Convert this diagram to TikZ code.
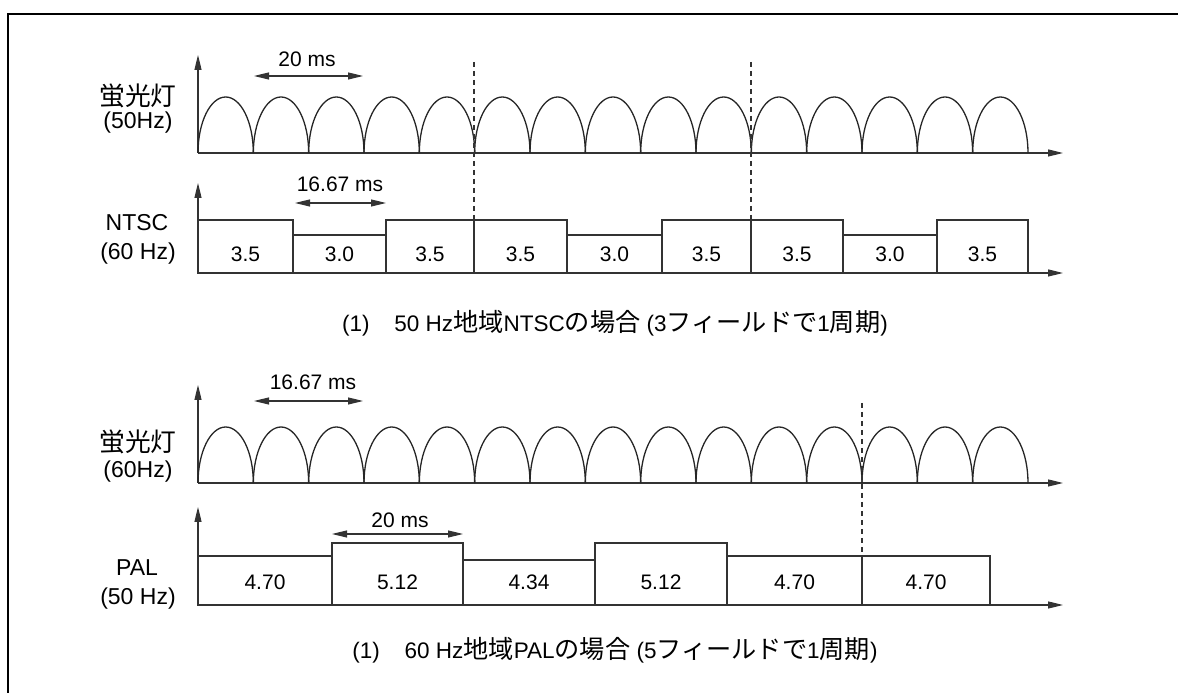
\documentclass[tikz,border=0pt]{standalone}
\usepackage{fontspec}
\setmainfont{Liberation Sans}
\newfontfamily\jpfont[Scale=1.12]{Noto Sans CJK JP}
\newcommand{\jtext}[1]{{\jpfont #1}}
\usetikzlibrary{arrows.meta, positioning}

\begin{document}
\begin{tikzpicture}[x=1pt, y=1pt,
  every node/.style={font=\fontsize{21}{25}\selectfont, inner sep=0pt},
  lbl/.style={align=center, font=\fontsize{23}{27}\selectfont},
  capt/.style={font=\fontsize{22.5}{27}\selectfont},
  axisarr/.style={-{Triangle[length=15pt, width=7pt]}, line width=1.2pt, draw=black!80},
  dimarr/.style={{Triangle[length=15pt, width=7pt]}-{Triangle[length=15pt, width=7pt]},
                 line width=1.1pt, draw=black!80},
  wave/.style={line width=1.3pt, draw=black!85},
  bar/.style={line width=1.2pt, draw=black!80},
  sync/.style={dash pattern=on 5pt off 4pt, line width=1.1pt, draw=black!80},
  frame/.style={line width=2.5pt},
]
  \useasboundingbox (0,0) rectangle (1178,693);
  \draw[frame] (8,0) |- (1178,679);

  % (1) 50 Hz lamp / NTSC
  \coordinate (oA) at (198,540);
  \coordinate (yA) at (198,638);
  \coordinate (xA) at (1063,540);
  \draw[axisarr] (oA) -- (yA);
  \draw[axisarr] (oA) -- (xA);
  \foreach \i in {0,...,14}
    \draw[wave] ({198+\i*55.333},540) arc[start angle=180, end angle=0,
                x radius=27.667pt, y radius=56pt];
  \node[lbl] (lampA) at (138,597) {\jtext{蛍光灯}};
  \node[lbl] (hzA)   at (138,570) {(50Hz)};

  \coordinate (dA1) at (254,617);
  \coordinate (dA2) at (363,617);
  \draw[dimarr] (dA1) -- (dA2);
  \node (msA) at (307,634) {20 ms};

  \coordinate (oB) at (198,420);
  \coordinate (yB) at (198,510);
  \coordinate (xB) at (1063,420);
  \draw[axisarr] (oB) -- (yB);
  \draw[axisarr] (oB) -- (xB);
  \foreach \a/\b/\h/\v [count=\k] in {198/293/473/3.5, 293/386/458/3.0, 386/474/473/3.5,
      474/567/473/3.5, 567/662/458/3.0, 662/751/473/3.5,
      751/843/473/3.5, 843/937/458/3.0, 937/1028/473/3.5} {
    \draw[bar] (\a,420) rectangle (\b,\h);
    \node (ntsc\k) at ({(\a+\b)/2},439) {\v};
  }
  \node[lbl] (ntsc) at (137,470) {NTSC};
  \node[lbl] (hzB)  at (138,439) {(60 Hz)};

  \coordinate (dB1) at (295,490);
  \coordinate (dB2) at (386,490);
  \draw[dimarr] (dB1) -- (dB2);
  \node (msB) at (340,509) {16.67 ms};

  \foreach \x [count=\k] in {474,751} {
    \coordinate (sA\k) at (\x,631);
    \coordinate (sB\k) at (\x,466);
    \draw[sync] (sA\k) -- (sB\k);
  }

  \node[capt] (capA) at (615,370)
    {(1)\hspace{1.1em}50 Hz\jtext{地域}NTSC\jtext{の場合} (3\jtext{フィールドで}1\jtext{周期})};

  % (2) 60 Hz lamp / PAL
  \coordinate (oC) at (198,210);
  \coordinate (yC) at (198,308);
  \coordinate (xC) at (1063,210);
  \draw[axisarr] (oC) -- (yC);
  \draw[axisarr] (oC) -- (xC);
  \foreach \i in {0,...,14}
    \draw[wave] ({198+\i*55.333},210) arc[start angle=180, end angle=0,
                x radius=27.667pt, y radius=56pt];
  \node[lbl] (lampC) at (138,251) {\jtext{蛍光灯}};
  \node[lbl] (hzC)   at (138,221) {(60Hz)};

  \coordinate (dC1) at (254,292);
  \coordinate (dC2) at (363,292);
  \draw[dimarr] (dC1) -- (dC2);
  \node (msC) at (313,311) {16.67 ms};

  \coordinate (oD) at (198,88);
  \coordinate (yD) at (198,186);
  \coordinate (xD) at (1063,88);
  \draw[axisarr] (oD) -- (yD);
  \draw[axisarr] (oD) -- (xD);
  \foreach \a/\b/\h/\v [count=\k] in {198/332/137/4.70, 332/463/150/5.12, 463/595/133/4.34,
      595/727/150/5.12, 727/862/137/4.70, 862/990/137/4.70} {
    \draw[bar] (\a,88) rectangle (\b,\h);
    \node (pal\k) at ({(\a+\b)/2},111) {\v};
  }
  \node[lbl] (pal) at (137,125) {PAL};
  \node[lbl] (hzD) at (138,94)  {(50 Hz)};

  \coordinate (dD1) at (332,159);
  \coordinate (dD2) at (463,159);
  \draw[dimarr] (dD1) -- (dD2);
  \node (msD) at (400,173) {20 ms};

  \coordinate (sC) at (862,290);
  \coordinate (sD) at (862,137);
  \draw[sync] (sC) -- (sD);

  \node[capt] (capB) at (615,43)
    {(1)\hspace{1.1em}60 Hz\jtext{地域}PAL\jtext{の場合} (5\jtext{フィールドで}1\jtext{周期})};
\end{tikzpicture}
\end{document}
